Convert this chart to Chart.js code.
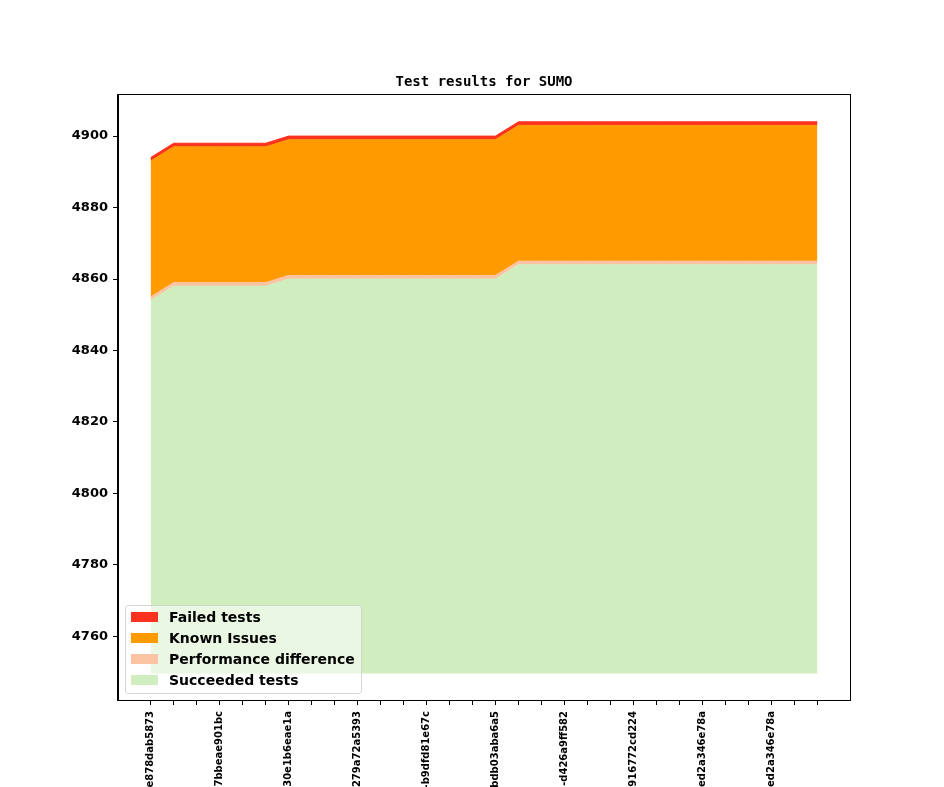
<!DOCTYPE html>
<html>
<head>
<meta charset="utf-8">
<script src="https://cdn.jsdelivr.net/npm/chart.js@4.4.1/dist/chart.umd.min.js"></script>
<style>
  html, body { margin: 0; padding: 0; background: #fff; }
  #chart { display: block; }
</style>
</head>
<body>
<canvas id="chart" width="944" height="787"></canvas>
<script>
// Commit tick labels (every 3rd build is labelled, the rest only get a tick mark)
const tickLabels = [
  'e878dab5873', '7bbeae901bc', '30e1b6eae1a', '279a72a5393', '-b9dfd81e67c',
  'bdb03aba6a5', '-d426a9ff582', '916772cd224', 'ed2a346e78a', 'ed2a346e78a'
];
const labelEvery = 3;

// One value per build (30 builds)
const succeeded = [
  4854, 4858, 4858, 4858, 4858, 4858,
  4860, 4860, 4860, 4860, 4860, 4860, 4860, 4860, 4860, 4860,
  4864, 4864, 4864, 4864, 4864, 4864, 4864, 4864, 4864, 4864, 4864, 4864, 4864, 4864
];
const perfDiff = [1, 1, 1, 1, 1, 1, 1, 1, 1, 1, 1, 1, 1, 1, 1, 1, 1, 1, 1, 1, 1, 1, 1, 1, 1, 1, 1, 1, 1, 1];
const knownIssues = [38, 38, 38, 38, 38, 38, 38, 38, 38, 38, 38, 38, 38, 38, 38, 38, 38, 38, 38, 38, 38, 38, 38, 38, 38, 38, 38, 38, 38, 38];
const failed = [1, 1, 1, 1, 1, 1, 1, 1, 1, 1, 1, 1, 1, 1, 1, 1, 1, 1, 1, 1, 1, 1, 1, 1, 1, 1, 1, 1, 1, 1];

const baseline = 4749.6;
const yTicks = [4760, 4780, 4800, 4820, 4840, 4860, 4880, 4900];

const COLORS = {
  failed: '#fc3221',
  known: '#ff9a00',
  perf: '#fdc4a4',
  succeeded: '#d0edbf',
};

// stack the series by hand so the bottom band can fill down to the baseline
function stackOn(below, values) {
  return values.map((v, i) => below[i] + v);
}
const topSucceeded = succeeded.slice();
const topPerf = stackOn(topSucceeded, perfDiff);
const topKnown = stackOn(topPerf, knownIssues);
const topFailed = stackOn(topKnown, failed);

const toPoints = arr => arr.map((y, i) => ({ x: i, y: y }));

function band(label, data, color, fill) {
  return {
    label: label,
    data: toPoints(data),
    borderColor: color,
    backgroundColor: color,
    borderWidth: 1,
    pointRadius: 0,
    tension: 0,
    fill: fill,
  };
}

const legendItems = [
  { text: 'Failed tests', color: COLORS.failed },
  { text: 'Known Issues', color: COLORS.known },
  { text: 'Performance difference', color: COLORS.perf },
  { text: 'Succeeded tests', color: COLORS.succeeded },
];

// frame, title and in-axes legend, matplotlib style
const decorPlugin = {
  id: 'decor',
  afterDraw(chart) {
    const ctx = chart.ctx;
    const a = chart.chartArea;
    ctx.save();

    // legend
    const lx = 125, ly = 605, lw = 236, lh = 88;
    ctx.beginPath();
    ctx.roundRect(lx + 0.5, ly + 0.5, lw, lh, 3);
    ctx.fillStyle = 'rgba(255,255,255,0.55)';
    ctx.fill();
    ctx.strokeStyle = 'rgba(204,204,204,0.8)';
    ctx.lineWidth = 1;
    ctx.stroke();
    ctx.font = 'bold 14px "DejaVu Sans"';
    ctx.textBaseline = 'middle';
    legendItems.forEach((it, i) => {
      const cy = 617 + i * 21;
      ctx.fillStyle = it.color;
      ctx.fillRect(131, cy - 5, 27, 10);
      ctx.fillStyle = '#000';
      ctx.fillText(it.text, 169, cy + 1);
    });

    // axes frame
    ctx.strokeStyle = '#000';
    ctx.lineWidth = 1;
    ctx.strokeRect(Math.round(a.left) - 0.5, Math.round(a.top) - 0.5,
      Math.round(a.right - a.left) + 1, Math.round(a.bottom - a.top) + 1);

    // title
    ctx.fillStyle = '#000';
    ctx.font = 'bold 14px "DejaVu Sans Mono"';
    ctx.textAlign = 'center';
    ctx.textBaseline = 'middle';
    ctx.fillText('Test results for SUMO', (a.left + a.right) / 2, 82);
    ctx.restore();
  },
};

const ctx = document.getElementById('chart').getContext('2d');
new Chart(ctx, {
  type: 'line',
  data: {
    datasets: [
      band('Succeeded tests', topSucceeded, COLORS.succeeded, { value: baseline }),
      band('Performance difference', topPerf, COLORS.perf, '-1'),
      band('Known Issues', topKnown, COLORS.known, '-1'),
      band('Failed tests', topFailed, COLORS.failed, '-1'),
    ],
  },
  options: {
    responsive: false,
    animation: false,
    devicePixelRatio: 1,
    layout: { padding: { left: 0, right: 94, top: 95, bottom: 0 } },
    scales: {
      x: {
        type: 'linear',
        min: -1.42,
        max: succeeded.length - 1 + 1.42,
        afterBuildTicks(axis) {
          axis.ticks = succeeded.map((_, i) => ({ value: i }));
        },
        afterFit(axis) { axis.height = 87; },
        ticks: {
          autoSkip: false,
          maxRotation: 90,
          minRotation: 90,
          padding: 6,
          color: '#000',
          font: { family: 'DejaVu Sans', size: 10, weight: 'bold' },
          callback(value) {
            return value % labelEvery === 0 ? tickLabels[value / labelEvery] : '';
          },
        },
        grid: { display: true, drawOnChartArea: false, tickLength: 5, color: '#000' },
        border: { display: true, color: '#000' },
      },
      y: {
        min: 4742.2,
        max: 4911.5,
        afterBuildTicks(axis) {
          axis.ticks = yTicks.map(v => ({ value: v }));
        },
        afterFit(axis) { axis.width = 118; },
        ticks: {
          padding: 5,
          color: '#000',
          font: { family: 'DejaVu Sans', size: 13, weight: 'bold' },
          callback(value) { return String(value); },
        },
        grid: { display: true, drawOnChartArea: false, tickLength: 5, color: '#000' },
        border: { display: true, color: '#000' },
      },
    },
    plugins: {
      legend: { display: false },
      title: { display: false },
      tooltip: { enabled: false },
    },
  },
  plugins: [decorPlugin],
});
</script>
</body>
</html>
